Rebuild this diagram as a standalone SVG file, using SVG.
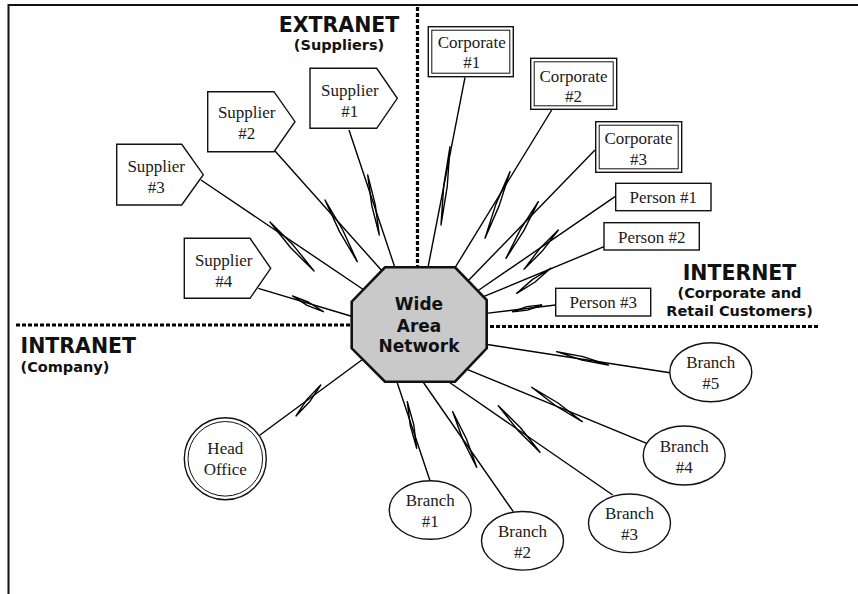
<svg xmlns="http://www.w3.org/2000/svg" xmlns:xlink="http://www.w3.org/1999/xlink" width="858" height="594" viewBox="0 0 858 594">
  <style>
    .frame { fill: none; stroke: #111; stroke-width: 2; }
    .zone { fill: none; stroke: #000; stroke-width: 3.2; stroke-dasharray: 4 2; }
    .head { font-family: "DejaVu Sans", Verdana, sans-serif; font-weight: bold; font-size: 20.5px; fill: #111; }
    .sub { font-family: "DejaVu Sans", Verdana, sans-serif; font-weight: bold; font-size: 14.5px; fill: #111; }
    .lbl { font-family: "Liberation Serif", "Times New Roman", serif; font-size: 17px; fill: #1a1a1a; text-anchor: middle; }
    .core { font-family: "DejaVu Sans", Verdana, sans-serif; font-weight: bold; font-size: 17px; fill: #111; text-anchor: middle; }
    .shape { fill: #fff; stroke: #111; stroke-width: 1.4; }
    .thin { fill: none; stroke: #111; stroke-width: 1; }
    .link line { stroke: #000; stroke-width: 1.4; }
  </style>
  <defs>
    <!-- narrow lightning spike, unit length along x -->
    <path id="bolt" d="M0 0 L0.5 1.8 L1 0 L0.5 -1.8 Z" fill="none" stroke="#000" stroke-width="1.4" stroke-linejoin="round" vector-effect="non-scaling-stroke"/>
  </defs>

  <rect width="858" height="594" fill="#fff"/>
  <!-- outer frame (open to right and bottom) -->
  <rect class="frame" x="8.5" y="5" width="900" height="700"/>

  <!-- zone separators -->
  <line class="zone" x1="417.5" y1="7" x2="417.5" y2="268"/>
  <line class="zone" x1="16" y1="325" x2="352" y2="325"/>
  <line class="zone" x1="490" y1="326.5" x2="818" y2="326.5"/>

  <!-- zone titles -->
  <g id="zone-extranet">
    <text class="head" x="339" y="32.3" text-anchor="middle">EXTRANET</text>
    <text class="sub" x="339" y="50" text-anchor="middle">(Suppliers)</text>
  </g>
  <g id="zone-internet">
    <text class="head" x="739.5" y="280" text-anchor="middle">INTERNET</text>
    <text class="sub" x="739.5" y="297.5" text-anchor="middle">(Corporate and</text>
    <text class="sub" x="739.5" y="315.5" text-anchor="middle">Retail Customers)</text>
  </g>
  <g id="zone-intranet">
    <text class="head" x="20.5" y="353.3">INTRANET</text>
    <text class="sub" x="20.5" y="371.5">(Company)</text>
  </g>

  <!-- connectors: straight link plus lightning spike -->
  <g id="connectors" class="link">
    <line x1="349" y1="130" x2="395.7" y2="270"/>
    <line x1="275" y1="151" x2="383" y2="272"/>
    <line x1="201" y1="180" x2="364" y2="290"/>
    <line x1="258.3" y1="288.3" x2="354" y2="317"/>
    <line x1="465" y1="77.3" x2="427.5" y2="270"/>
    <line x1="551.7" y1="110" x2="453" y2="271"/>
    <line x1="595" y1="150" x2="466" y2="283"/>
    <line x1="615" y1="196.7" x2="476" y2="292"/>
    <line x1="604" y1="246.7" x2="481" y2="297.7"/>
    <line x1="555.7" y1="305" x2="484" y2="313.6"/>
    <line x1="484" y1="344" x2="670" y2="372.7"/>
    <line x1="464" y1="368.2" x2="646.7" y2="443.3"/>
    <line x1="446" y1="380" x2="612.7" y2="495"/>
    <line x1="421" y1="379" x2="513.3" y2="511.7"/>
    <line x1="396" y1="379" x2="430" y2="480.7"/>
    <line x1="363.5" y1="358.7" x2="260" y2="435"/>

    <use xlink:href="#bolt" transform="translate(367.7 175) rotate(79.06) scale(61.1 1)"/>
    <use xlink:href="#bolt" transform="translate(325 200) rotate(62.37) scale(69.6 1)"/>
    <use xlink:href="#bolt" transform="translate(270 222) rotate(48.08) scale(65.9 1)"/>
    <use xlink:href="#bolt" transform="translate(292.5 296) rotate(27) scale(34.6 1)"/>
    <use xlink:href="#bolt" transform="translate(450 146.7) rotate(96.56) scale(78.8 1)"/>
    <use xlink:href="#bolt" transform="translate(510 171.7) rotate(110.57) scale(71.1 1)"/>
    <use xlink:href="#bolt" transform="translate(538.3 201.7) rotate(119.71) scale(65.2 1)"/>
    <use xlink:href="#bolt" transform="translate(558.3 230) rotate(131.11) scale(52.2 1)"/>
    <use xlink:href="#bolt" transform="translate(550.7 268.3) rotate(143.67) scale(42.2 1)"/>
    <use xlink:href="#bolt" transform="translate(541.7 305) rotate(166.99) scale(29.8 1)"/>
    <use xlink:href="#bolt" transform="translate(556.7 351.7) rotate(14.45) scale(53.3 1)"/>
    <use xlink:href="#bolt" transform="translate(531.7 387.3) rotate(34.21) scale(61.2 1)"/>
    <use xlink:href="#bolt" transform="translate(498.3 405.7) rotate(48.17) scale(62.5 1)"/>
    <use xlink:href="#bolt" transform="translate(452.7 411.7) rotate(66.65) scale(60.6 1)"/>
    <use xlink:href="#bolt" transform="translate(407.3 401.7) rotate(78.6) scale(47.5 1)"/>
    <use xlink:href="#bolt" transform="translate(320.7 385) rotate(128.55) scale(39.6 1)"/>
  </g>

  <!-- hub -->
  <g id="wan">
    <polygon points="385,267.3 455,267.3 486.7,300 486.7,348.3 455,381.7 385,381.7 351.7,348.3 351.7,301.7" fill="#c9c9c9" stroke="#111" stroke-width="2.6" stroke-linejoin="miter"/>
    <text class="core" x="419" y="310">Wide</text>
    <text class="core" x="419" y="331.5">Area</text>
    <text class="core" x="419" y="352.3">Network</text>
  </g>

  <!-- suppliers -->
  <g id="supplier-1">
    <path class="shape" d="M310 68.3 H376.7 L397.3 98.3 L376.7 128.3 H310 Z"/>
    <text class="lbl" x="349.8" y="95.5">Supplier</text>
    <text class="lbl" x="349.8" y="116.5">#1</text>
  </g>
  <g id="supplier-2">
    <path class="shape" d="M207.7 91.7 H274 L295 121.7 L274 151.7 H207.7 Z"/>
    <text class="lbl" x="246.7" y="118">Supplier</text>
    <text class="lbl" x="246.7" y="139.3">#2</text>
  </g>
  <g id="supplier-3">
    <path class="shape" d="M116.7 144.3 H181.7 L203.3 174.7 L181.7 205 H116.7 Z"/>
    <text class="lbl" x="156.2" y="172">Supplier</text>
    <text class="lbl" x="156.2" y="193">#3</text>
  </g>
  <g id="supplier-4">
    <path class="shape" d="M184.3 238.3 H250 L270.7 268.3 L250 298.3 H184.3 Z"/>
    <text class="lbl" x="223.7" y="266">Supplier</text>
    <text class="lbl" x="223.7" y="287">#4</text>
  </g>

  <!-- corporate customers -->
  <g id="corporate-1">
    <rect class="shape" x="428.3" y="26.7" width="85" height="50"/>
    <rect class="thin" x="431.8" y="30.2" width="78" height="43"/>
    <text class="lbl" x="471.7" y="48.3">Corporate</text>
    <text class="lbl" x="471.7" y="68.3">#1</text>
  </g>
  <g id="corporate-2">
    <rect class="shape" x="530.7" y="58.3" width="86" height="51"/>
    <rect class="thin" x="534.2" y="61.8" width="79" height="44"/>
    <text class="lbl" x="573.5" y="81.7">Corporate</text>
    <text class="lbl" x="573.5" y="101.7">#2</text>
  </g>
  <g id="corporate-3">
    <rect class="shape" x="595.7" y="121.7" width="86" height="50.6"/>
    <rect class="thin" x="599.2" y="125.2" width="79" height="43.6"/>
    <text class="lbl" x="638.5" y="144">Corporate</text>
    <text class="lbl" x="638.5" y="165">#3</text>
  </g>

  <!-- retail customers -->
  <g id="person-1">
    <rect class="shape" x="615.7" y="183.3" width="95.3" height="27.4" stroke="#333" stroke-width="1.2"/>
    <text class="lbl" x="663.3" y="203.3">Person #1</text>
  </g>
  <g id="person-2">
    <rect class="shape" x="604" y="222.7" width="95.3" height="27.3" stroke="#333" stroke-width="1.2"/>
    <text class="lbl" x="651.7" y="242.7">Person #2</text>
  </g>
  <g id="person-3">
    <rect class="shape" x="555.7" y="288.3" width="95" height="27.7" stroke="#333" stroke-width="1.2"/>
    <text class="lbl" x="603.2" y="308.3">Person #3</text>
  </g>

  <!-- company sites -->
  <g id="head-office">
    <circle class="shape" cx="225.3" cy="458.8" r="41"/>
    <circle class="thin" cx="225.3" cy="458.8" r="37.3"/>
    <text class="lbl" x="225.3" y="454">Head</text>
    <text class="lbl" x="225.3" y="475">Office</text>
  </g>
  <g id="branch-1">
    <ellipse class="shape" cx="430.2" cy="510" rx="41" ry="29.3"/>
    <text class="lbl" x="430.2" y="506">Branch</text>
    <text class="lbl" x="430.2" y="527">#1</text>
  </g>
  <g id="branch-2">
    <ellipse class="shape" cx="522.5" cy="540.8" rx="41" ry="29.3"/>
    <text class="lbl" x="522.5" y="536.8">Branch</text>
    <text class="lbl" x="522.5" y="557.8">#2</text>
  </g>
  <g id="branch-3">
    <ellipse class="shape" cx="629.5" cy="523.3" rx="41" ry="29.3"/>
    <text class="lbl" x="629.5" y="519.3">Branch</text>
    <text class="lbl" x="629.5" y="540.3">#3</text>
  </g>
  <g id="branch-4">
    <ellipse class="shape" cx="684.2" cy="455.5" rx="41" ry="29.5"/>
    <text class="lbl" x="684.2" y="451.5">Branch</text>
    <text class="lbl" x="684.2" y="472.5">#4</text>
  </g>
  <g id="branch-5">
    <ellipse class="shape" cx="710.8" cy="372.2" rx="41" ry="29.5"/>
    <text class="lbl" x="710.8" y="368.2">Branch</text>
    <text class="lbl" x="710.8" y="389.2">#5</text>
  </g>
</svg>
